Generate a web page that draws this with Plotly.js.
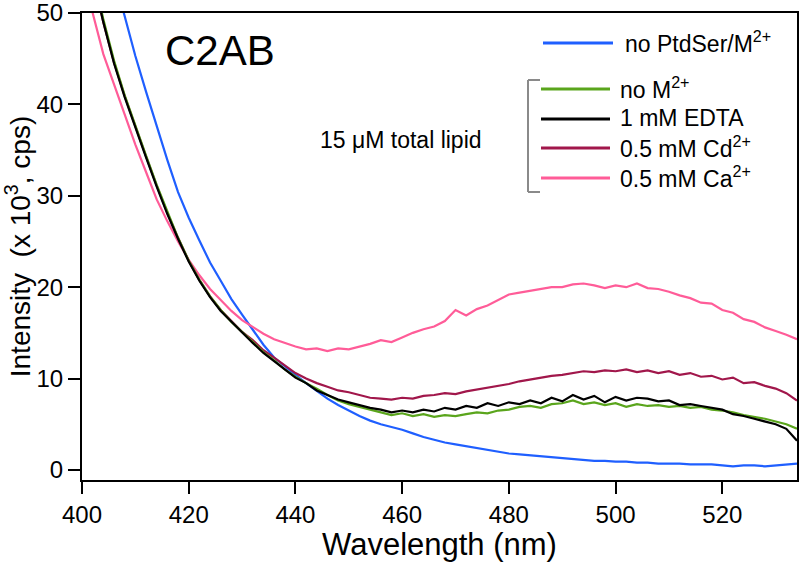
<!DOCTYPE html>
<html>
<head>
<meta charset="utf-8">
<script src="https://cdn.plot.ly/plotly-3.0.1.min.js"></script>
<style>html,body{margin:0;padding:0;background:#fff;}#chart{width:800px;height:562px;}</style>
</head>
<body>
<div id="chart"></div>
<script>
const wavelength = [400,402,404,406,408,410,412,414,416,418,420,422,424,426,428,430,432,434,436,438,440,442,444,446,448,450,452,454,456,458,460,462,464,466,468,470,472,474,476,478,480,482,484,486,488,490,492,494,496,498,500,502,504,506,508,510,512,514,516,518,520,522,524,526,528,530,532,534];

const noPtdSer = [68,63,58.5,54,49.5,45.3,41.4,37.6,33.9,30.4,27.6,25.1,22.7,20.7,18.7,17.0,15.3,13.7,12.3,11.3,10.4,9.5,8.6,7.8,7.1,6.5,5.9,5.4,5.0,4.7,4.4,4.0,3.6,3.3,3.0,2.8,2.6,2.4,2.2,2.0,1.8,1.7,1.6,1.5,1.4,1.3,1.2,1.1,1.0,1.0,0.9,0.9,0.8,0.8,0.7,0.7,0.7,0.6,0.6,0.6,0.5,0.4,0.5,0.5,0.4,0.5,0.6,0.7];

const noM = [60.5,54.5,49.3,44.8,41,37.6,34.4,31.2,28.2,25.4,22.9,20.8,19.0,17.5,16.2,15.1,14.0,12.9,12.0,11.0,10.2,9.5,8.9,8.2,7.6,7.2,6.9,6.6,6.3,6.0,6.2,5.9,6.1,5.8,6.0,5.9,6.1,6.3,6.2,6.5,6.6,6.9,7.0,6.8,7.2,7.3,7.6,7.2,7.4,7.1,7.3,6.9,7.2,7.0,7.1,6.9,7.0,6.8,6.9,6.6,6.5,6.3,6.0,5.8,5.6,5.3,5.0,4.5];

const edta = [60,54,49,44.5,40.8,37.4,34.2,31.0,28.0,25.3,22.8,20.7,18.9,17.4,16.2,15.0,13.9,12.8,11.9,10.9,10.1,9.5,8.7,8.2,7.7,7.4,7.1,6.8,6.6,6.3,6.5,6.3,6.6,6.4,6.8,6.6,7.0,6.8,7.3,7.0,7.4,7.2,7.6,7.3,7.9,7.5,8.2,7.7,8.1,7.4,8.0,7.6,7.9,7.8,7.5,7.6,7.1,7.2,7.0,6.8,6.6,6.1,5.9,5.6,5.3,5.0,4.5,3.2];

const cd = [60,54,49,44.6,40.9,37.5,34.3,31.1,28.1,25.4,22.9,20.8,19.0,17.5,16.3,15.1,14.2,13.1,12.3,11.4,10.6,10.0,9.5,9.1,8.7,8.5,8.2,7.9,7.8,7.7,7.9,7.8,8.1,8.2,8.4,8.3,8.6,8.8,9.0,9.2,9.4,9.7,9.9,10.1,10.3,10.4,10.6,10.8,10.7,10.9,10.8,11.0,10.7,10.9,10.6,10.8,10.4,10.6,10.2,10.3,9.9,10.1,9.5,9.6,9.2,8.9,8.4,7.6];

const ca = [56,50,45.5,42.2,38.8,35.6,32.6,29.6,27.2,25.0,23.0,21.3,19.8,18.6,17.4,16.4,15.6,14.9,14.3,13.9,13.5,13.2,13.3,13.0,13.3,13.2,13.5,13.8,14.2,14.0,14.5,15.0,15.4,15.7,16.3,17.5,16.9,17.6,18.0,18.6,19.2,19.4,19.6,19.8,20.0,20.0,20.3,20.4,20.2,19.9,20.2,20.0,20.4,19.9,19.8,19.5,19.1,18.8,18.3,18.2,17.5,17.2,16.5,16.2,15.6,15.2,14.8,14.3];

const seriesNames = ["no PtdSer/M<sup>2+</sup>","no M<sup>2+</sup>","1 mM EDTA","0.5 mM Cd<sup>2+</sup>","0.5 mM Ca<sup>2+</sup>"];
const seriesColors = ["#1f5fff","#5aa51c","#000000","#a1174b","#ff5c98"];
const seriesValues = [noPtdSer, noM, edta, cd, ca];
const xTicks = [400,420,440,460,480,500,520];
const yTicks = [0,10,20,30,40,50];

const FONT = "Liberation Sans, Arial, sans-serif";
const L = 82, R = 797, T = 13, B = 480;
const px = x => (x - L) / (R - L);
const py = y => (B - y) / (B - T);

const order = [0, 4, 3, 1, 2];
const traces = order.map(i => ({
  x: wavelength, y: seriesValues[i], type: "scatter", mode: "lines",
  name: seriesNames[i], line: {color: seriesColors[i], width: 2.2}, showlegend: false,
  hoverinfo: "skip"
}));

const legendY = [43, 89, 119, 148, 178];
const shapes = [];
const annotations = [];
seriesNames.forEach((n, i) => {
  const y = legendY[i];
  const x0 = i === 0 ? 543 : 541, x1 = i === 0 ? 613 : 610;
  shapes.push({type: "line", xref: "paper", yref: "paper", x0: px(x0), x1: px(x1), y0: py(y), y1: py(y), line: {color: seriesColors[i], width: 3}});
  annotations.push({xref: "paper", yref: "paper", x: px(i === 0 ? 623 : 618), y: py(y - 1), xanchor: "left", yanchor: "middle", text: n, showarrow: false, font: {family: FONT, size: 23, color: "#000"}});
});
const bc = "#8a8a8a";
shapes.push({type: "line", xref: "paper", yref: "paper", x0: px(528), x1: px(528), y0: py(80), y1: py(192), line: {color: bc, width: 2}});
shapes.push({type: "line", xref: "paper", yref: "paper", x0: px(528), x1: px(540), y0: py(80), y1: py(80), line: {color: bc, width: 2}});
shapes.push({type: "line", xref: "paper", yref: "paper", x0: px(528), x1: px(540), y0: py(192), y1: py(192), line: {color: bc, width: 2}});

annotations.push({xref: "paper", yref: "paper", x: px(163), y: py(50), xanchor: "left", yanchor: "middle", text: "C2AB", showarrow: false, font: {family: FONT, size: 42, color: "#000"}});
annotations.push({xref: "paper", yref: "paper", x: px(318), y: py(140), xanchor: "left", yanchor: "middle", text: "15 μM total lipid", showarrow: false, font: {family: FONT, size: 23, color: "#000"}});

const layout = {
  width: 800, height: 562,
  margin: {l: L, r: 800 - R, t: T, b: 562 - B, pad: 0},
  paper_bgcolor: "#fff", plot_bgcolor: "#fff",
  showlegend: false,
  font: {family: FONT, color: "#000"},
  xaxis: {
    range: [400, 534], tickvals: xTicks, ticktext: xTicks.map(String),
    ticks: "outside", ticklen: 12, tickwidth: 2, tickcolor: "#000",
    showline: true, linecolor: "#000", linewidth: 2, mirror: true,
    showgrid: false, zeroline: false, ticklabeloverflow: "allow",
    tickfont: {family: FONT, size: 24, color: "#000"},
    title: {text: "Wavelength (nm)", font: {family: FONT, size: 31, color: "#000"}, standoff: 6}
  },
  yaxis: {
    range: [-1.1, 50], tickvals: yTicks, ticktext: yTicks.map(String),
    ticks: "outside", ticklen: 12, tickwidth: 2, tickcolor: "#000",
    showline: true, linecolor: "#000", linewidth: 2, mirror: true,
    showgrid: false, zeroline: false, ticklabeloverflow: "allow",
    tickfont: {family: FONT, size: 24, color: "#000"},
    title: {text: "Intensity  (x 10<sup>3</sup>, cps)", font: {family: FONT, size: 28, color: "#000"}, standoff: 2}
  },
  shapes: shapes,
  annotations: annotations
};

Plotly.newPlot("chart", traces, layout, {staticPlot: true, displayModeBar: false});
</script>
</body>
</html>
